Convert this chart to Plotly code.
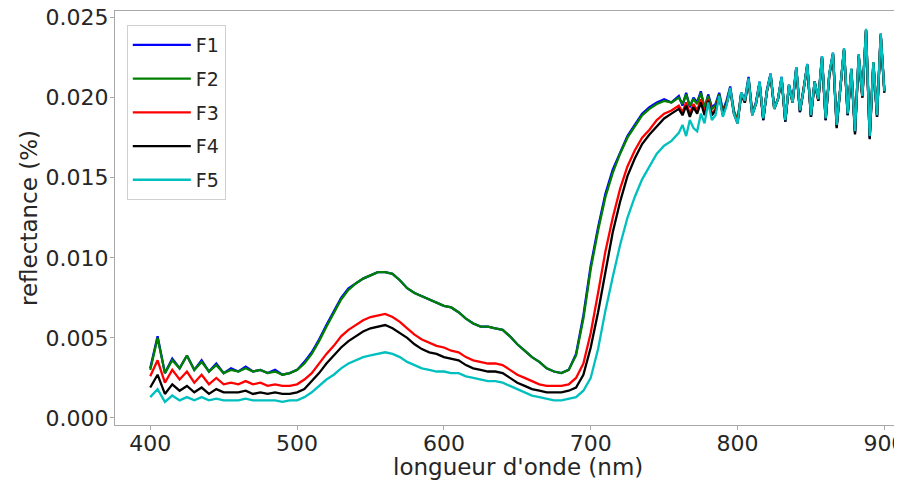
import plotly.graph_objects as go

# wavelengths (nm): 5 nm steps up to 755, then 2.5 nm steps in the noisy NIR part
wl = list(range(400, 760, 5)) + [760 + 2.5 * i for i in range(57)]

f1_refl = [
    0.0031, 0.0051, 0.0028, 0.0037, 0.0031, 0.0039, 0.0030, 0.0036, 0.0029, 0.0034,
    0.0028, 0.0031, 0.0029, 0.0032, 0.0029, 0.0030, 0.0028, 0.0030, 0.0027, 0.0028,
    0.0030, 0.0035, 0.0041, 0.0049, 0.0058, 0.0067, 0.0075, 0.0081, 0.0084, 0.0087,
    0.0089, 0.0091, 0.0091, 0.0090, 0.0086, 0.0081, 0.0078, 0.0076, 0.0074, 0.0072,
    0.0070, 0.0069, 0.0066, 0.0062, 0.0059, 0.0057, 0.0057, 0.0056, 0.0055, 0.0051,
    0.0046, 0.0042, 0.0038, 0.0035, 0.0031, 0.0029, 0.0028, 0.0030, 0.0040, 0.0064,
    0.0095, 0.0119, 0.0140, 0.0155, 0.0166, 0.0176, 0.0183, 0.0190, 0.0194, 0.0197,
    0.0199, 0.0197,
    0.0201, 0.0195, 0.0203, 0.0194, 0.0200, 0.0197, 0.0204, 0.0193, 0.0202, 0.0194,
    0.0196, 0.0203, 0.0192, 0.0198, 0.0207, 0.0191, 0.0185, 0.0203, 0.0199, 0.0213,
    0.0190, 0.0197, 0.0210, 0.0186, 0.0205, 0.0215, 0.0194, 0.0199, 0.0213, 0.0185,
    0.0208, 0.0198, 0.0219, 0.0191, 0.0205, 0.0221, 0.0188, 0.0210, 0.0199, 0.0226,
    0.0186, 0.0215, 0.0228, 0.0182, 0.0206, 0.0230, 0.0189, 0.0218, 0.0178, 0.0227,
    0.0201, 0.0242, 0.0175, 0.0222, 0.0188, 0.0240, 0.0204,
]

f2_refl = [
    0.0030, 0.0050, 0.0028, 0.0036, 0.0031, 0.0039, 0.0030, 0.0035, 0.0029, 0.0033,
    0.0028, 0.0030, 0.0029, 0.0031, 0.0029, 0.0030, 0.0028, 0.0029, 0.0027, 0.0028,
    0.0030, 0.0034, 0.0040, 0.0048, 0.0057, 0.0066, 0.0074, 0.0080, 0.0084, 0.0087,
    0.0089, 0.0091, 0.0091, 0.0090, 0.0086, 0.0081, 0.0078, 0.0076, 0.0074, 0.0072,
    0.0070, 0.0069, 0.0066, 0.0062, 0.0059, 0.0057, 0.0057, 0.0056, 0.0055, 0.0051,
    0.0046, 0.0042, 0.0038, 0.0035, 0.0031, 0.0029, 0.0028, 0.0030, 0.0039, 0.0062,
    0.0093, 0.0117, 0.0138, 0.0153, 0.0165, 0.0175, 0.0182, 0.0189, 0.0193, 0.0196,
    0.0198, 0.0197,
    0.0200, 0.0196, 0.0202, 0.0195, 0.0199, 0.0196, 0.0203, 0.0194, 0.0201, 0.0193,
    0.0195, 0.0202, 0.0191, 0.0197, 0.0206, 0.0192, 0.0186, 0.0203, 0.0198, 0.0212,
    0.0191, 0.0196, 0.0209, 0.0187, 0.0204, 0.0214, 0.0193, 0.0199, 0.0212, 0.0186,
    0.0208, 0.0197, 0.0218, 0.0192, 0.0205, 0.0220, 0.0189, 0.0210, 0.0199, 0.0225,
    0.0187, 0.0215, 0.0227, 0.0183, 0.0206, 0.0230, 0.0190, 0.0218, 0.0179, 0.0226,
    0.0201, 0.0242, 0.0176, 0.0222, 0.0189, 0.0239, 0.0204,
]

f3_refl = [
    0.0026, 0.0036, 0.0022, 0.0030, 0.0024, 0.0029, 0.0022, 0.0027, 0.0021, 0.0025,
    0.0021, 0.0022, 0.0021, 0.0023, 0.0021, 0.0022, 0.0020, 0.0021, 0.0020, 0.0020,
    0.0021, 0.0024, 0.0028, 0.0034, 0.0040, 0.0045, 0.0051, 0.0055, 0.0058, 0.0061,
    0.0063, 0.0064, 0.0065, 0.0063, 0.0060, 0.0056, 0.0052, 0.0049, 0.0047, 0.0045,
    0.0044, 0.0042, 0.0041, 0.0038, 0.0036, 0.0035, 0.0034, 0.0034, 0.0033, 0.0030,
    0.0027, 0.0025, 0.0023, 0.0021, 0.0020, 0.0020, 0.0020, 0.0021, 0.0025, 0.0034,
    0.0053, 0.0078, 0.0104, 0.0125, 0.0143, 0.0157, 0.0167, 0.0175, 0.0180, 0.0186,
    0.0190, 0.0192,
    0.0195, 0.0191, 0.0197, 0.0190, 0.0196, 0.0192, 0.0199, 0.0191, 0.0199, 0.0190,
    0.0193, 0.0201, 0.0190, 0.0196, 0.0205, 0.0191, 0.0185, 0.0202, 0.0197, 0.0211,
    0.0190, 0.0196, 0.0209, 0.0187, 0.0204, 0.0214, 0.0193, 0.0199, 0.0212, 0.0186,
    0.0207, 0.0197, 0.0218, 0.0192, 0.0205, 0.0220, 0.0189, 0.0209, 0.0198, 0.0225,
    0.0187, 0.0214, 0.0227, 0.0184, 0.0206, 0.0230, 0.0190, 0.0217, 0.0179, 0.0226,
    0.0200, 0.0242, 0.0176, 0.0221, 0.0189, 0.0239, 0.0204,
]

f4_refl = [
    0.0019, 0.0027, 0.0015, 0.0021, 0.0017, 0.0020, 0.0016, 0.0019, 0.0015, 0.0018,
    0.0016, 0.0016, 0.0016, 0.0017, 0.0015, 0.0016, 0.0015, 0.0016, 0.0015, 0.0015,
    0.0016, 0.0018, 0.0023, 0.0028, 0.0034, 0.0039, 0.0044, 0.0048, 0.0051, 0.0054,
    0.0056, 0.0057, 0.0058, 0.0056, 0.0053, 0.0050, 0.0046, 0.0043, 0.0041, 0.0040,
    0.0038, 0.0037, 0.0036, 0.0033, 0.0031, 0.0030, 0.0029, 0.0029, 0.0028, 0.0025,
    0.0022, 0.0020, 0.0018, 0.0017, 0.0016, 0.0016, 0.0016, 0.0017, 0.0019, 0.0027,
    0.0044, 0.0066, 0.0092, 0.0116, 0.0135, 0.0151, 0.0162, 0.0171, 0.0177, 0.0182,
    0.0187, 0.0190,
    0.0193, 0.0189, 0.0195, 0.0188, 0.0194, 0.0190, 0.0197, 0.0189, 0.0198, 0.0189,
    0.0192, 0.0201, 0.0189, 0.0196, 0.0205, 0.0190, 0.0184, 0.0202, 0.0197, 0.0211,
    0.0189, 0.0196, 0.0209, 0.0186, 0.0204, 0.0214, 0.0193, 0.0199, 0.0212, 0.0185,
    0.0207, 0.0197, 0.0218, 0.0191, 0.0205, 0.0220, 0.0188, 0.0210, 0.0198, 0.0225,
    0.0186, 0.0214, 0.0227, 0.0181, 0.0206, 0.0230, 0.0189, 0.0217, 0.0177, 0.0226,
    0.0200, 0.0242, 0.0174, 0.0221, 0.0188, 0.0239, 0.0203,
]

f5_refl = [
    0.0013, 0.0018, 0.0010, 0.0014, 0.0011, 0.0013, 0.0011, 0.0013, 0.0011, 0.0012,
    0.0011, 0.0011, 0.0011, 0.0012, 0.0011, 0.0011, 0.0011, 0.0011, 0.0010, 0.0011,
    0.0011, 0.0013, 0.0016, 0.0020, 0.0024, 0.0027, 0.0031, 0.0034, 0.0036, 0.0038,
    0.0039, 0.0040, 0.0041, 0.0040, 0.0038, 0.0035, 0.0033, 0.0031, 0.0030, 0.0029,
    0.0029, 0.0028, 0.0028, 0.0026, 0.0025, 0.0024, 0.0023, 0.0023, 0.0022, 0.0020,
    0.0018, 0.0016, 0.0014, 0.0013, 0.0012, 0.0011, 0.0011, 0.0012, 0.0013, 0.0017,
    0.0025, 0.0043, 0.0067, 0.0088, 0.0108, 0.0125, 0.0138, 0.0149, 0.0157, 0.0165,
    0.0170, 0.0173,
    0.0178, 0.0183, 0.0176, 0.0186, 0.0181, 0.0179, 0.0190, 0.0184, 0.0197, 0.0186,
    0.0189, 0.0201, 0.0188, 0.0195, 0.0206, 0.0190, 0.0184, 0.0203, 0.0198, 0.0212,
    0.0189, 0.0196, 0.0210, 0.0187, 0.0204, 0.0215, 0.0193, 0.0199, 0.0213, 0.0186,
    0.0208, 0.0197, 0.0219, 0.0192, 0.0205, 0.0221, 0.0189, 0.0210, 0.0199, 0.0226,
    0.0187, 0.0215, 0.0228, 0.0183, 0.0206, 0.0231, 0.0190, 0.0218, 0.0179, 0.0227,
    0.0201, 0.0243, 0.0176, 0.0222, 0.0189, 0.0240, 0.0204,
]

names = ['F1', 'F2', 'F3', 'F4', 'F5']
colors = ['#0000ff', '#008000', '#ff0000', '#000000', '#00bfbf']
series = [f1_refl, f2_refl, f3_refl, f4_refl, f5_refl]

fig = go.Figure()
for name, col, vals in zip(names, colors, series):
    fig.add_trace(go.Scatter(x=wl, y=vals, mode='lines', name=name,
                             legendgroup=name,
                             line=dict(color=col, width=2.3)))

tick_font = dict(family='DejaVu Sans', size=22, color='#262626')
title_font = dict(family='DejaVu Sans', size=23, color='#262626')

# page body has an 8px margin, so the figure is 8px smaller than the window
fig.update_layout(
    width=894, height=472,
    margin=dict(l=107, r=0, t=3, b=55),
    paper_bgcolor='white', plot_bgcolor='white',
    font=tick_font,
    showlegend=True,
    legend=dict(x=0.015, y=0.966, xanchor='left', yanchor='top',
                bgcolor='rgba(255,255,255,0.8)', bordercolor='#d0d0d0', borderwidth=1,
                font=dict(family='DejaVu Sans', size=19, color='#262626'),
                itemwidth=58, tracegroupgap=6, traceorder='grouped'),
)
fig.add_annotation(text="longueur d'onde (nm)", xref='paper', yref='paper',
                   x=0.512, y=0, yshift=-42, xanchor='center', yanchor='middle',
                   showarrow=False, font=title_font)
fig.add_annotation(text='reflectance (%)', xref='paper', yref='paper',
                   x=0, y=0.5, xshift=-86, xanchor='center', yanchor='middle',
                   textangle=-90, showarrow=False, font=title_font)

fig.update_xaxes(range=[376, 912], tickvals=[400, 500, 600, 700, 800, 900],
                 showgrid=False, zeroline=False, automargin=False,
                 ticklabeloverflow='allow', ticklabelstandoff=-5,
                 showline=True, mirror=True, linecolor='#a8a8a8', linewidth=1,
                 ticks='outside', ticklen=4, tickcolor='#a8a8a8',
                 tickfont=tick_font)
fig.update_yaxes(range=[-0.00044, 0.02541], dtick=0.005, tick0=0, tickformat='.3f',
                 showgrid=False, zeroline=False, automargin=False,
                 ticklabeloverflow='allow', ticklabelstandoff=-3,
                 showline=True, mirror=False, linecolor='#a8a8a8', linewidth=1,
                 ticks='outside', ticklen=4, tickcolor='#a8a8a8',
                 tickfont=tick_font)

fig.write_html("out.html")
